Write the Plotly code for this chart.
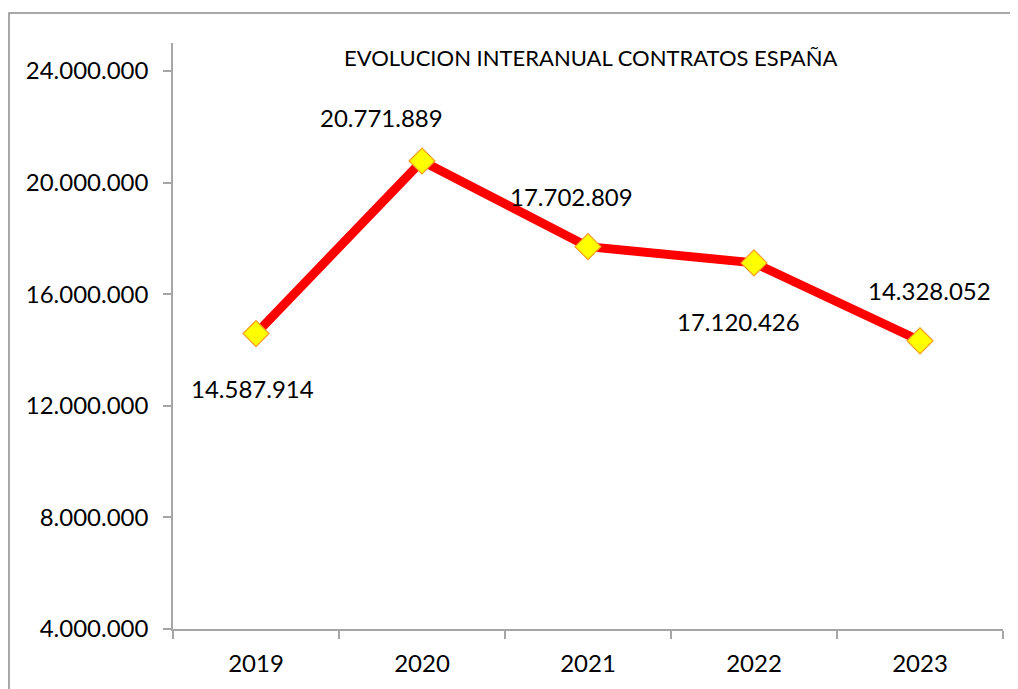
import plotly.graph_objects as go

years = ["2019", "2020", "2021", "2022", "2023"]
contracts = [14587914, 20771889, 17702809, 17120426, 14328052]
y_ticks = [4000000, 8000000, 12000000, 16000000, 20000000, 24000000]
title_text = "EVOLUCION INTERANUAL CONTRATOS ESPAÑA"

# label offsets (pixels) relative to each point
label_dx = [-4, -41, -17, -16, 9]
label_dy = [-55, 43, 50, -59, 50]

FONT = "Lato"
OFF = 8  # page body margin

fig = go.Figure()
fig.add_trace(go.Scatter(
    x=years, y=contracts, mode="lines+markers",
    line=dict(color="#FF0000", width=9),
    marker=dict(symbol="diamond", size=20, color="#FFFF00",
                line=dict(color="#F59A23", width=1.2)),
    hoverinfo="skip", showlegend=False,
))

def fmt(v):
    return f"{v:,}".replace(",", ".")

for i, (v, dx, dy) in enumerate(zip(contracts, label_dx, label_dy)):
    fig.add_annotation(x=i, y=v, xref="x", yref="y", text=fmt(v),
                       showarrow=False, xshift=dx, yshift=dy,
                       font=dict(family=FONT, size=24, color="#000000"))

W, H = 1010, 681
L, R, T, B = 165, 15, 35, 58
pw, ph = W - L - R, H - T - B

fig.add_shape(type="rect", xref="paper", yref="paper",
              x0=(9 - OFF - L) / pw, x1=(W + 20 - L) / pw,
              y0=-(B + 20) / ph, y1=((H - B) - (13 - OFF)) / ph,
              line=dict(color="#8C8C8C", width=1.5), layer="below")

fig.add_annotation(xref="paper", yref="paper",
                   x=(590 - OFF - L) / pw, y=((H - B) - (58 - OFF)) / ph,
                   text=title_text, showarrow=False,
                   xanchor="center", yanchor="middle",
                   font=dict(family=FONT, size=22, color="#000000"))

fig.update_layout(
    width=W, height=H,
    margin=dict(l=L, r=R, t=T, b=B),
    paper_bgcolor="white", plot_bgcolor="white",
    separators=",.",
    font=dict(family=FONT, size=24, color="#000000"),
)
fig.update_xaxes(
    type="category", tickson="boundaries",
    showline=True, linecolor="#A6A6A6", linewidth=1.5,
    ticks="outside", ticklen=8, tickcolor="#A6A6A6", tickwidth=1.5,
    showgrid=False, zeroline=False, range=[-0.5, 4.5],
    tickfont=dict(family=FONT, size=24), ticklabelstandoff=12,
)
fig.update_yaxes(
    range=[4000000, 25000000], tickvals=y_ticks, tickformat=",d",
    showline=True, linecolor="#A6A6A6", linewidth=1.5,
    ticks="outside", ticklen=8, tickcolor="#A6A6A6", tickwidth=1.5,
    showgrid=False, zeroline=False,
    tickfont=dict(family=FONT, size=24), ticklabelstandoff=10,
)

fig.write_html("out.html")
